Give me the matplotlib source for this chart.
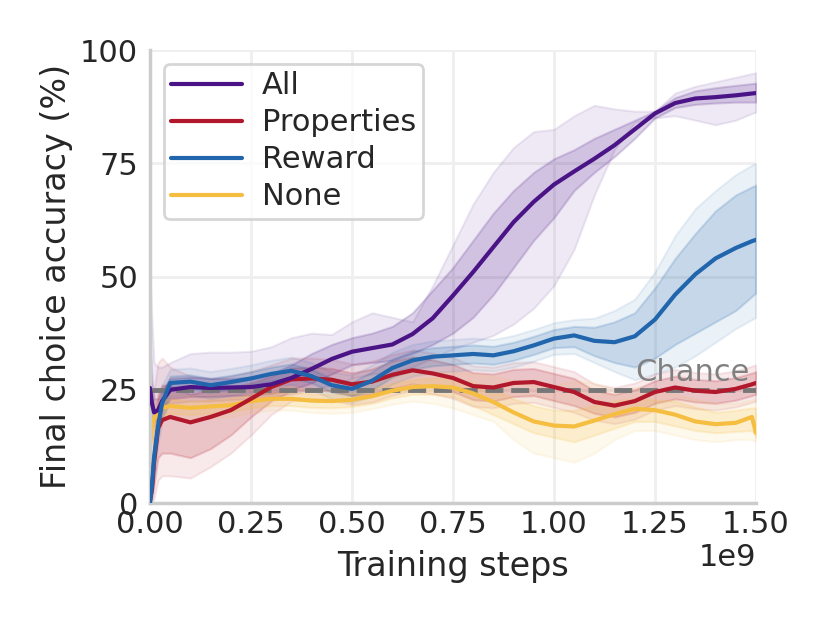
import numpy as np
import matplotlib
matplotlib.use("Agg")
import matplotlib.pyplot as plt
import seaborn as sns

sns.set_theme(context="poster", style="whitegrid")
plt.rcParams["font.family"] = ["DejaVu Sans"]
plt.rcParams["grid.color"] = "#efefef"
plt.rcParams["axes.edgecolor"] = "#cccccc"

# training steps (in units of 1e9)
steps = [0, 0.005, 0.01, 0.02, 0.03, 0.05, 0.1, 0.15, 0.2, 0.25, 0.3, 0.35, 0.4, 0.45,
         0.5, 0.55, 0.6, 0.65, 0.7, 0.75, 0.8, 0.85, 0.9, 0.95, 1.0, 1.05, 1.1, 1.15,
         1.2, 1.25, 1.3, 1.35, 1.4, 1.45, 1.49, 1.5]

series_names = ["All", "Properties", "Reward", "None"]
series_colors = ["#4a1486", "#b2182b", "#2166ac", "#f6be41"]

# ---- All ----
all_mean = [25.4, 22, 20, 20.5, 22.5, 25, 25.6, 25.4, 25.5, 25.6, 26.2, 27.6, 29.6, 31.8,
            33.4, 34.2, 35, 37.3, 40.8, 45.8, 51, 56.5, 62, 66.5, 70.3, 73.2, 76, 79,
            82.5, 86, 88.3, 89.3, 89.6, 90, 90.4, 90.5]
all_in_lo = [20, 19, 18, 18.5, 20.5, 23, 23.5, 23.5, 23.7, 23.8, 24.2, 25, 26.5, 28.5,
             30.5, 31, 31.5, 33, 35, 37.5, 41, 46, 52, 58, 63, 69, 73, 76.5,
             80.5, 85, 87.3, 88, 88.3, 88.5, 88.5, 88.5]
all_in_hi = [35, 27, 23, 23, 25, 27.5, 27.8, 27.5, 27.5, 27.8, 28.5, 30.5, 33, 35,
             36.5, 37.5, 39, 42, 47, 52, 58, 64, 69, 73, 76, 78, 80.5, 82.5,
             84.5, 86.5, 89.5, 91, 91.7, 92.2, 92.6, 92.7]
all_out_lo = [15, 17, 17, 17.5, 19, 22, 22.5, 22.5, 22.8, 23, 23.5, 24, 25, 26,
              27.5, 28.5, 29, 30, 32, 34, 35.5, 37, 39.5, 43, 48, 56, 68, 78,
              84, 85, 85.5, 84.5, 83.5, 84.5, 86, 86.3]
all_out_hi = [50, 40, 31, 30, 30, 31, 33, 33.3, 33.3, 33.5, 34.5, 36.5, 37.5, 37.2,
              40, 42, 41, 40, 48, 57, 66, 73, 78.5, 82, 82.5, 85.5, 87.8, 87,
              86.5, 86.5, 90.5, 92, 93, 94, 94.8, 95]

# ---- Properties ----
prop_mean = [0.5, 3, 9, 16.5, 18.3, 19, 17.8, 19, 20.5, 23, 25.6, 27.3, 27.5, 27.2,
             26.2, 26.8, 28.3, 29.3, 28.6, 27.6, 25.8, 25.5, 26.5, 26.7, 25.6, 24.5, 22.3, 21.5,
             22.5, 24.5, 25.5, 24.8, 24.5, 25.2, 26.2, 26.5]
prop_in_lo = [0, 1, 4, 10, 11, 11, 10, 12, 15, 19, 22.5, 24.8, 25, 24.7,
              23.7, 24, 25.3, 26.3, 25.6, 24.6, 22.8, 22.5, 23.5, 23.7, 22.6, 21.5, 19.8, 19,
              20, 22, 23, 22.3, 22, 22.7, 23.7, 24]
prop_in_hi = [1, 6, 15, 24, 26, 26, 24, 25, 25.5, 26.5, 28, 29.8, 30, 29.7,
              28.7, 29.6, 31.3, 32.3, 31.6, 30.6, 28.8, 28.5, 29.5, 29.7, 28.6, 27.5, 24.8, 24,
              25, 27, 28, 27.3, 27, 27.7, 28.7, 29]
prop_out_lo = [0, 0, 1, 5, 6, 6, 5.5, 8, 11, 15, 19.5, 22.5, 23, 22.7,
               21.7, 22.3, 23.8, 24.8, 24.1, 23.1, 21.3, 21, 22, 22.2, 21.1, 20, 18.3, 17.5,
               18.5, 20.5, 21.5, 20.8, 20.5, 21.2, 22.2, 22.5]
prop_out_hi = [2, 10, 25, 31, 32, 30, 28, 27.5, 28, 29, 30.5, 32, 32, 31.7,
               30.7, 31.3, 32.8, 33.8, 33.1, 32.1, 30.3, 30, 31, 31.2, 30.1, 29, 26.3, 25.5,
               26.5, 28.5, 29.5, 28.8, 28.5, 29.2, 30.2, 30.5]

# ---- Reward ----
rew_mean = [0, 4, 10, 17, 22, 26.5, 26.8, 26, 26.7, 27.5, 28.5, 29.2, 28, 26,
            25.2, 27, 29.8, 31.5, 32.3, 32.6, 32.9, 32.6, 33.5, 34.8, 36.3, 37, 35.8, 35.5,
            36.8, 40.5, 46, 50.5, 54, 56.3, 57.8, 58.1]
rew_in_lo = [0, 3, 8, 15, 20, 25, 25.3, 24.5, 25.2, 26, 27, 27.7, 26.5, 24.5,
             23.7, 25, 27.8, 29.5, 30.3, 30.6, 30.9, 30.6, 31.5, 32.8, 34.3, 34.5, 32.5, 31,
             30, 32, 35, 37.5, 40, 42.5, 45.6, 46.4]
rew_in_hi = [0, 5, 12, 19, 24, 28, 28.3, 27.5, 28.2, 29, 30, 30.7, 29.5, 27.5,
             26.7, 29, 31.8, 33.5, 34.3, 34.6, 34.9, 34.6, 35.5, 36.8, 38.3, 39, 38.8, 40,
             42, 47.5, 54, 59.5, 64.5, 68, 69.8, 70.2]
rew_out_lo = [0, 2, 6, 13, 18, 23.5, 24, 23, 23.7, 24.5, 25.5, 26.2, 25, 23,
              22.2, 23.5, 26.3, 28, 28.8, 29.1, 29.4, 29.1, 30, 31.3, 32.8, 33, 31, 29,
              27.2, 28.5, 30, 32.5, 35.5, 38.5, 40.5, 41]
rew_out_hi = [0, 6, 14, 21, 26, 29.5, 29.8, 29, 29.7, 30.5, 31.5, 32.2, 31, 29,
              28.2, 30.5, 33.3, 35, 35.8, 36.1, 36.4, 36.1, 37, 38.3, 39.8, 40.5, 40.8, 42.5,
              45, 51, 59, 65, 69, 72.5, 74.6, 75]

# ---- None ----
none_mean = [12.8, 17, 18.5, 20, 21, 21.4, 21, 21.3, 21.6, 22.5, 23, 23, 22.6, 22.5,
             22.8, 23.6, 24.8, 25.6, 25.8, 25.5, 24.2, 22.3, 20, 18, 17.1, 16.9, 18.2, 19.6,
             20.8, 20.5, 19.5, 18, 17.4, 17.7, 19, 15.5]
none_in_lo = [10.5, 15, 16.5, 18, 19.3, 19.8, 19.5, 19.8, 20.1, 21, 21.5, 21.5, 21.1, 21,
              21.3, 22, 23.2, 24, 24, 23.5, 21.5, 19.5, 17.5, 15.5, 14.5, 13.5, 15, 16.5,
              18, 18, 17, 16, 15.5, 15.8, 16, 14.5]
none_in_hi = [15, 19, 20.5, 22, 22.7, 23, 22.5, 22.8, 23.1, 24, 24.5, 24.5, 24.1, 24,
              24.3, 25.2, 26.4, 27.2, 27.6, 27.5, 26.5, 25, 23, 21.5, 20.5, 20.5, 21.5, 22.5,
              23, 22.8, 22.5, 21.2, 20, 20.5, 21, 21]
none_out_lo = [8, 13, 15, 17, 18.2, 18.8, 18.5, 18.8, 19, 20, 20.5, 20.5, 20, 19.8,
               20, 20.8, 21.8, 22.5, 22, 21, 19.5, 18, 14, 11, 10, 9, 11, 14,
               16, 16, 15, 14, 13.5, 14, 14, 13.5]
none_out_hi = [17, 21, 22, 23.5, 24, 24.2, 23.8, 24, 24.3, 25.2, 25.8, 25.8, 25.3, 25.2,
               25.5, 26.5, 27.8, 28.6, 29, 29, 28.5, 28, 27, 26, 26, 27, 26.5, 25,
               25.5, 25, 24, 23, 22, 22, 22.8, 23]

chance_level = 25
chance_label = "Chance"

means = [all_mean, prop_mean, rew_mean, none_mean]
inner = [(all_in_lo, all_in_hi), (prop_in_lo, prop_in_hi), (rew_in_lo, rew_in_hi), (none_in_lo, none_in_hi)]
outer = [(all_out_lo, all_out_hi), (prop_out_lo, prop_out_hi), (rew_out_lo, rew_out_hi), (none_out_lo, none_out_hi)]

x = np.array(steps) * 1e9

fig = plt.figure(figsize=(8.3, 6.23), dpi=100)
ax = fig.add_axes([0.1807, 0.1926, 0.7301, 0.7271])

for i in range(4):
    c = series_colors[i]
    ax.fill_between(x, outer[i][0], outer[i][1], color=c, alpha=0.09, lw=1.5, zorder=1)
    ax.fill_between(x, inner[i][0], inner[i][1], color=c, alpha=0.18, lw=1.5, zorder=1)

ax.axhline(chance_level, color="#777777", ls="--", lw=3.5, zorder=2)
ax.text(1.485e9, chance_level + 0.6, chance_label, color="#808080", fontsize=22,
        ha="right", va="bottom", zorder=2)

line_z = [4, 3, 5, 2.5]
handles = []
for i in range(4):
    h, = ax.plot(x, means[i], color=series_colors[i], lw=3, label=series_names[i], zorder=line_z[i])
    handles.append(h)

ax.set_xlim(0, 1.5e9)
ax.set_ylim(0, 100)
ax.set_xticks(np.arange(0, 1.51e9, 0.25e9))
ax.set_yticks([0, 25, 50, 75, 100])
ax.set_xlabel("Training steps", fontsize=24, labelpad=8)
ax.set_ylabel("Final choice accuracy (%)", fontsize=24, labelpad=5)
ax.tick_params(labelsize=22, colors="#262626", length=0)
ax.tick_params(axis="x", pad=5)
ax.tick_params(axis="y", pad=8.5)
ax.xaxis.get_offset_text().set_fontsize(22)
sns.despine(ax=ax)

leg = ax.legend(handles=handles, loc="upper left", fontsize=22, frameon=True,
                borderpad=0.25, labelspacing=0.26, handlelength=2.3, handletextpad=0.65,
                borderaxespad=0.45)
leg.get_frame().set_edgecolor("#cccccc")
leg.get_frame().set_linewidth(2)

fig.savefig("out.png", dpi=100)
